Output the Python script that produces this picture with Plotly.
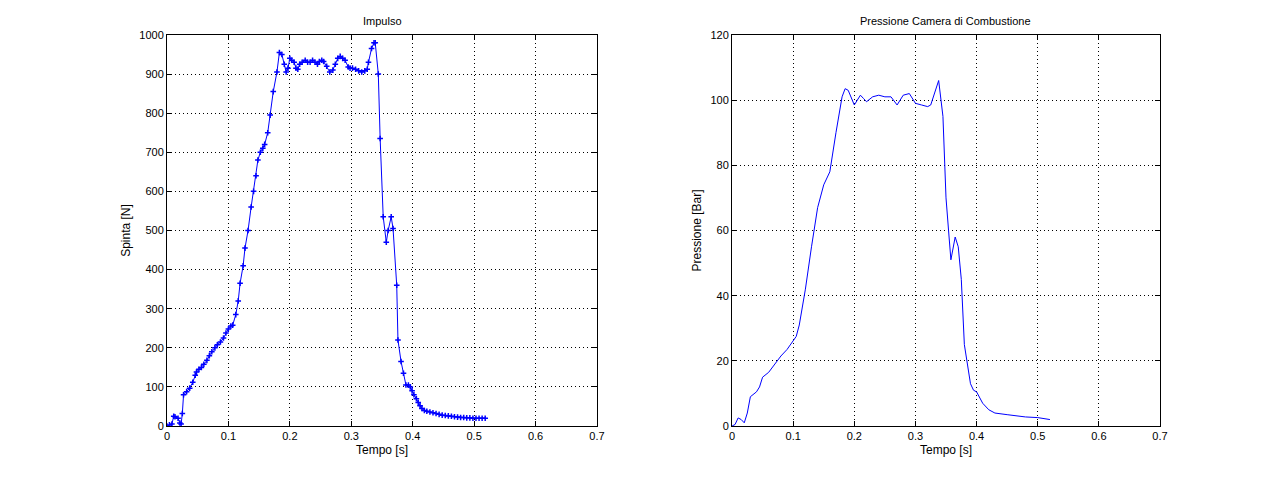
import plotly.graph_objects as go

t_imp = [0.0, 0.004, 0.008, 0.011, 0.013, 0.018, 0.021, 0.023, 0.025, 0.027, 0.032, 0.037, 0.042, 0.046, 0.048, 0.052, 0.056, 0.060, 0.065, 0.069, 0.073, 0.078, 0.082, 0.087, 0.092, 0.096, 0.100, 0.104, 0.107, 0.112, 0.116, 0.119, 0.124, 0.127, 0.132, 0.137, 0.141, 0.145, 0.148, 0.152, 0.156, 0.159, 0.164, 0.168, 0.173, 0.179, 0.183, 0.187, 0.191, 0.194, 0.197, 0.200, 0.203, 0.207, 0.210, 0.213, 0.216, 0.220, 0.225, 0.229, 0.233, 0.237, 0.241, 0.245, 0.248, 0.252, 0.255, 0.260, 0.265, 0.270, 0.274, 0.278, 0.282, 0.286, 0.290, 0.295, 0.298, 0.302, 0.307, 0.312, 0.317, 0.322, 0.326, 0.328, 0.333, 0.337, 0.339, 0.344, 0.347, 0.352, 0.357, 0.360, 0.365, 0.368, 0.374, 0.376, 0.381, 0.385, 0.389, 0.393, 0.396, 0.399, 0.402, 0.406, 0.409, 0.412, 0.415, 0.419, 0.423, 0.428, 0.433, 0.438, 0.443, 0.448, 0.453, 0.458, 0.463, 0.468, 0.473, 0.478, 0.483, 0.488, 0.493, 0.498, 0.503, 0.508, 0.513, 0.518]
f_imp = [0, 3, 5, 25, 24, 20, 8, 5, 32, 80, 88, 97, 112, 130, 138, 145, 150, 158, 168, 180, 190, 200, 208, 215, 225, 238, 248, 256, 258, 285, 320, 365, 410, 455, 500, 560, 600, 640, 680, 700, 710, 720, 750, 795, 855, 905, 955, 950, 925, 905, 915, 940, 935, 930, 915, 912, 925, 930, 935, 930, 930, 935, 930, 925, 932, 935, 932, 920, 905, 910, 925, 940, 945, 940, 935, 918, 915, 915, 912, 908, 905, 908, 912, 930, 965, 980, 980, 900, 735, 535, 470, 500, 535, 505, 360, 220, 165, 135, 105, 105, 100, 90, 80, 70, 60, 52, 45, 40, 38, 36, 34, 32, 30, 28, 27, 26, 25, 24, 23, 22, 22, 21, 21, 20, 20, 20, 20, 20]

t_p = [0.0, 0.005, 0.01, 0.015, 0.02, 0.025, 0.03, 0.04, 0.045, 0.05, 0.06, 0.07, 0.08, 0.09, 0.1, 0.105, 0.11, 0.12, 0.13, 0.14, 0.15, 0.16, 0.17, 0.18, 0.185, 0.19, 0.2, 0.21, 0.215, 0.22, 0.23, 0.24, 0.25, 0.26, 0.27, 0.28, 0.29, 0.3, 0.31, 0.32, 0.325, 0.335, 0.338, 0.345, 0.35, 0.355, 0.358, 0.365, 0.37, 0.375, 0.38, 0.39, 0.395, 0.4, 0.41, 0.42, 0.43, 0.45, 0.48, 0.5, 0.52]
p_p = [0, 0.5, 2.5, 2, 1, 4, 9, 10.5, 12, 15, 16.5, 19, 21.5, 23.5, 26, 27.5, 31, 42, 55, 67, 74, 78, 90, 101, 103.5, 103, 98.5, 101.5, 100.5, 99.5, 101, 101.5, 101, 101, 98.5, 101.5, 102, 99, 98.5, 98, 98.5, 104, 106, 95, 70, 58, 51, 58, 55, 45, 25, 13, 11, 10.5, 7, 5, 4, 3.5, 2.8, 2.6, 2]

blue = "#0000ff"
fig = go.Figure()
fig.add_trace(go.Scatter(x=t_imp, y=f_imp, mode="lines+markers", line=dict(color=blue, width=1),
                         marker=dict(symbol="cross-thin", size=4, line=dict(color=blue, width=1.5), color=blue),
                         xaxis="x", yaxis="y"))
fig.add_trace(go.Scatter(x=t_p, y=p_p, mode="lines", line=dict(color=blue, width=1), xaxis="x2", yaxis="y2"))

ax = dict(showline=True, linecolor="black", linewidth=1, mirror="ticks", ticks="inside", ticklen=5,
          tickcolor="black", showgrid=True, gridcolor="black", griddash="1px,3px", gridwidth=1, zeroline=False,
          tickfont=dict(size=11, color="black"))
tf = dict(size=12, color="black")
fig.update_layout(
    width=1281, height=480, paper_bgcolor="white", plot_bgcolor="white", showlegend=False,
    margin=dict(l=0, r=0, t=0, b=0, autoexpand=False),
    font=dict(family="Liberation Sans, Arial", size=11, color="black"),
    xaxis=dict(ax, domain=[0.1241, 0.4598], range=[0, 0.7], dtick=0.1, anchor="y",
               title=dict(text="Tempo [s]", font=tf, standoff=4)),
    yaxis=dict(ax, domain=[0.129, 0.944], range=[0, 1000], dtick=100, anchor="x",
               title=dict(text="Spinta [N]", font=tf, standoff=6)),
    xaxis2=dict(ax, domain=[0.5652, 0.8993], range=[0, 0.7], dtick=0.1, anchor="y2",
                title=dict(text="Tempo [s]", font=tf, standoff=4)),
    yaxis2=dict(ax, domain=[0.129, 0.944], range=[0, 120], dtick=20, anchor="x2",
                title=dict(text="Pressione [Bar]", font=tf, standoff=6)),
    annotations=[
        dict(text="Impulso", x=0.292, y=0.956, xref="paper", yref="paper", showarrow=False,
             xanchor="center", yanchor="bottom", font=dict(size=11, color="black")),
        dict(text="Pressione Camera di Combustione", x=0.732, y=0.956, xref="paper", yref="paper",
             showarrow=False, xanchor="center", yanchor="bottom", font=dict(size=11, color="black")),
    ],
)
fig.write_html("out.html")
